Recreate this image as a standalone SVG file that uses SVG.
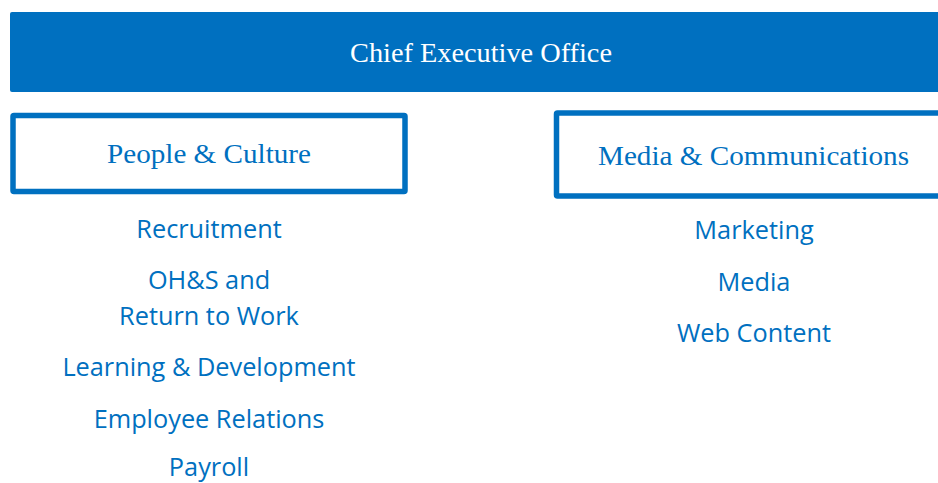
<svg xmlns="http://www.w3.org/2000/svg" width="938" height="483" viewBox="0 0 938 483">
<style>
.hdr{font-family:"Liberation Serif","DejaVu Serif",serif;text-anchor:middle}
.item{font-family:"Open Sans","Noto Sans","Liberation Sans",sans-serif;font-size:25.3px;fill:#0070C0;text-anchor:middle}
.box{fill:#fff;stroke:#0070C0;stroke-width:5.5}
</style>
<rect width="938" height="483" fill="#fff"/>
<g id="ceo">
<rect x="10" y="12" width="940" height="80" rx="2" fill="#0070C0"/>
<text class="hdr" x="481" y="62" font-size="27" fill="#fff" textLength="262" lengthAdjust="spacingAndGlyphs">Chief Executive Office</text>
</g>
<g id="people-culture">
<rect class="box" x="13" y="115.5" width="392" height="76" rx="1"/>
<text class="hdr" x="209" y="163" font-size="27" fill="#0070C0" textLength="204" lengthAdjust="spacingAndGlyphs">People &amp; Culture</text>
<text class="item" x="209" y="238">Recruitment</text>
<text class="item" x="209" y="289">OH&amp;S and</text>
<text class="item" x="209" y="325">Return to Work</text>
<text class="item" x="209" y="376">Learning &amp; Development</text>
<text class="item" x="209" y="428">Employee Relations</text>
<text class="item" x="209" y="476">Payroll</text>
</g>
<g id="media-comms">
<rect class="box" x="556.5" y="113" width="400" height="83" rx="1"/>
<text class="hdr" x="753.5" y="165" font-size="27" fill="#0070C0" textLength="311" lengthAdjust="spacingAndGlyphs">Media &amp; Communications</text>
<text class="item" x="754" y="239">Marketing</text>
<text class="item" x="754" y="291">Media</text>
<text class="item" x="754" y="342">Web Content</text>
</g>
<g id="connectors"/>
</svg>
